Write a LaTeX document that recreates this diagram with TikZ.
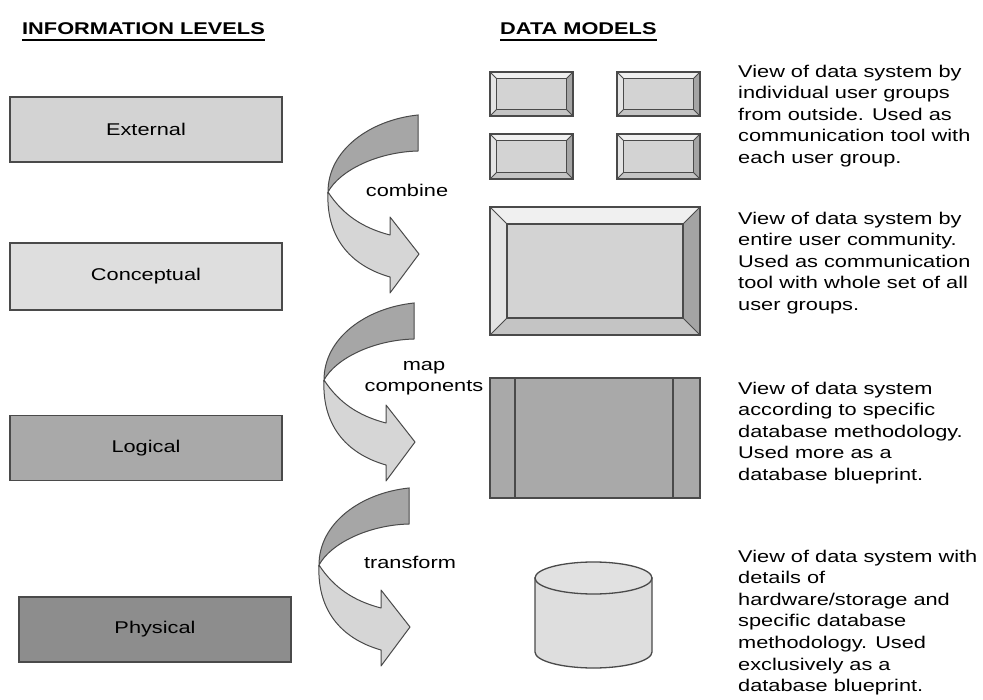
\documentclass[tikz,border=0pt]{standalone}
\usepackage{fontspec}
\setmainfont{Liberation Sans}[FakeStretch=1.28]
\definecolor{linegray}{HTML}{4A4A4A}
\definecolor{extgray}{HTML}{D3D3D3}
\definecolor{congray}{HTML}{DEDEDE}
\definecolor{loggray}{HTML}{A9A9A9}
\definecolor{phygray}{HTML}{8D8D8D}
\definecolor{backgray}{HTML}{A6A6A6}
\definecolor{frontgray}{HTML}{D6D6D6}
\definecolor{bevlight}{HTML}{F0F0F0}
\definecolor{bevmid}{HTML}{C4C4C4}
\definecolor{bevdark}{HTML}{A4A4A4}
\tikzset{
  level/.style={draw=linegray, line width=1.4pt, minimum width=272pt,
    minimum height=65pt, inner sep=0pt},
  heading/.style={font=\fontsize{17}{21.6}\selectfont\bfseries, inner sep=0pt, anchor=base west},
  desc/.style={align=left, inner sep=0pt, anchor=north west},
  verb/.style={inner sep=0pt, align=center},
  pics/twist arrow/.style={code={
    \filldraw[draw=linegray, fill=backgray, line width=1pt]
      (0,0) .. controls (-48,5) and (-90,35) .. (-90,77)
      .. controls (-78,55) and (-40,37) .. (0,36) -- cycle;
    \filldraw[draw=linegray, fill=frontgray, line width=1pt, line join=round]
      (-90,77) .. controls (-75,100) and (-55,113) .. (-28,120)
      -- (-28,102) -- (1,139) -- (-28,178) -- (-28,162)
      .. controls (-70,150) and (-92,120) .. (-90,77) -- cycle;
  }}
}
% x1 y1 x2 y2 inset inner-colour
\newcommand\bevelrect[6]{
  \fill[bevlight] (#1,#2) -- (#3,#2) -- ({#3-#5},{#2+#5}) -- ({#1+#5},{#2+#5}) -- cycle;
  \fill[bevlight!95!black] (#1,#2) -- ({#1+#5},{#2+#5}) -- ({#1+#5},{#4-#5}) -- (#1,#4) -- cycle;
  \fill[bevmid] (#1,#4) -- ({#1+#5},{#4-#5}) -- ({#3-#5},{#4-#5}) -- (#3,#4) -- cycle;
  \fill[bevdark] (#3,#2) -- (#3,#4) -- ({#3-#5},{#4-#5}) -- ({#3-#5},{#2+#5}) -- cycle;
  \filldraw[fill=#6, draw=linegray, line width=1.2pt] ({#1+#5},{#2+#5}) rectangle ({#3-#5},{#4-#5});
  \draw[linegray, line width=1pt] (#1,#2) -- ({#1+#5},{#2+#5}) (#3,#2) -- ({#3-#5},{#2+#5})
    (#1,#4) -- ({#1+#5},{#4-#5}) (#3,#4) -- ({#3-#5},{#4-#5});
  \draw[linegray, line width=1.4pt] (#1,#2) rectangle (#3,#4);
}
\begin{document}
\begin{tikzpicture}[x=1pt, y=-1pt, font=\fontsize{17}{21.6}\selectfont]
  \useasboundingbox[fill=white] (0,0) rectangle (983,700);

  % headings
  \node[heading] (hinfo) at (22,35) {INFORMATION LEVELS};
  \node[heading] (hdata) at (500,35) {DATA MODELS};
  \draw[line width=1.6pt] ([yshift=-5pt]hinfo.base west) -- ([yshift=-5pt]hinfo.base east);
  \draw[line width=1.6pt] ([yshift=-5pt]hdata.base west) -- ([yshift=-5pt]hdata.base east);

  % information levels
  \node[level, fill=extgray] (ext) at (146,129.5) {External};
  \node[level, fill=congray, minimum height=67pt] (con) at (146,276.5) {Conceptual};
  \node[level, fill=loggray] (log) at (146,448) {Logical};
  \node[level, fill=phygray] (phy) at (155,629.5) {Physical};

  % bent arrows
  \pic at (418,115) {twist arrow};
  \pic at (414,303) {twist arrow};
  \pic at (409,488) {twist arrow};
  \node[verb] (comb) at (407,190) {combine};
  \node[verb] (mapc) at (424,378) {map\\components};
  \node[verb] (trans) at (410,562) {transform};

  % external models
  \bevelrect{490}{72}{573}{116}{6.5}{extgray}
  \bevelrect{617}{72}{700}{116}{6.5}{extgray}
  \bevelrect{490}{134}{573}{179}{6.5}{extgray}
  \bevelrect{617}{134}{700}{179}{6.5}{extgray}

  % conceptual model
  \bevelrect{490}{207}{700}{335}{17}{congray!95!black}

  % logical model
  \filldraw[fill=loggray, draw=linegray, line width=1.4pt] (490,378) rectangle (700,498);
  \draw[linegray, line width=1.4pt] (515,378) -- (515,498) (673,378) -- (673,498);

  % physical model
  \filldraw[fill=congray, draw=linegray, line width=1.3pt]
    (535,578) -- (535,652) arc[start angle=180, end angle=0, x radius=58.5, y radius=16]
    -- (652,578) -- cycle;
  \filldraw[fill=congray!90!white, draw=linegray, line width=1.3pt]
    (593.5,578) ellipse[x radius=58.5, y radius=16];

  % descriptions
  \node[desc] (dext) at (738,64.6) {View of data system by\\individual user groups\\from outside. Used as\\communication tool with\\each user group.};
  \node[desc] (dcon) at (738,211.6) {View of data system by\\entire user community.\\Used as communication\\tool with whole set of all\\user groups.};
  \node[desc] (dlog) at (738,381.6) {View of data system\\according to specific\\database methodology.\\Used more as a\\database blueprint.};
  \node[desc] (dphy) at (738,549.6) {View of data system with\\details of\\hardware/storage and\\specific database\\methodology. Used\\exclusively as a\\database blueprint.};
\end{tikzpicture}
\end{document}
